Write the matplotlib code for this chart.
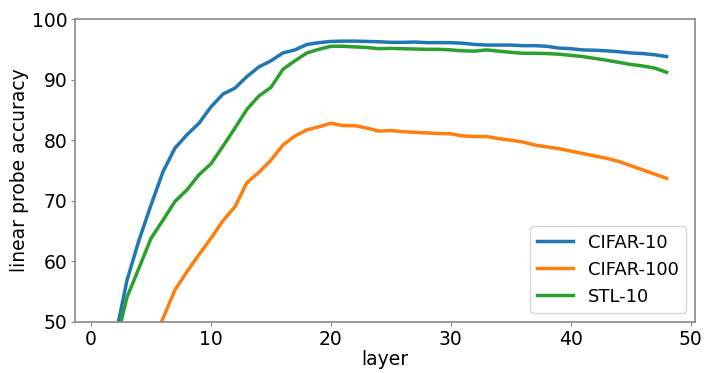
import matplotlib
matplotlib.use("Agg")
import matplotlib.pyplot as plt
import numpy as np

layers = list(range(1, 49))
cifar10 = [35.0, 47.3, 56.9, 63.5, 69.3, 74.8, 78.7, 80.9, 82.8, 85.5,
           87.6, 88.6, 90.5, 92.1, 93.1, 94.4, 94.9, 95.8, 96.1, 96.3,
           96.35, 96.35, 96.3, 96.25, 96.15, 96.15, 96.2, 96.1, 96.1, 96.1,
           96.0, 95.8, 95.7, 95.7, 95.7, 95.6, 95.6, 95.5, 95.2, 95.1,
           94.9, 94.85, 94.75, 94.6, 94.4, 94.3, 94.1, 93.8]
cifar100 = [25.0, 32.0, 37.0, 42.0, 46.5, 50.6, 55.3, 58.3, 61.1, 63.8,
            66.7, 69.0, 73.0, 74.7, 76.7, 79.2, 80.7, 81.7, 82.2, 82.8,
            82.4, 82.4, 82.0, 81.5, 81.6, 81.4, 81.3, 81.2, 81.1, 81.05,
            80.7, 80.6, 80.6, 80.25, 80.0, 79.7, 79.2, 78.9, 78.6, 78.2,
            77.8, 77.4, 77.0, 76.5, 75.8, 75.1, 74.4, 73.7]
stl10 = [38.0, 45.9, 54.1, 58.9, 63.8, 66.8, 69.9, 71.8, 74.3, 76.1,
         79.0, 82.0, 85.1, 87.3, 88.7, 91.7, 93.1, 94.4, 95.0, 95.5,
         95.5, 95.4, 95.3, 95.1, 95.15, 95.1, 95.05, 95.0, 95.0, 94.9,
         94.75, 94.7, 94.9, 94.7, 94.5, 94.35, 94.35, 94.3, 94.2, 94.0,
         93.8, 93.5, 93.2, 92.85, 92.5, 92.25, 91.9, 91.2]

fig = plt.figure(figsize=(7.2, 3.73), dpi=100)
ax = fig.add_axes([0.104, 0.137, 0.861, 0.812])
ax.plot(layers, cifar10, color="#1f77b4", lw=2.5, label="CIFAR-10")
ax.plot(layers, cifar100, color="#ff7f0e", lw=2.5, label="CIFAR-100")
ax.plot(layers, stl10, color="#2ca02c", lw=2.5, label="STL-10")
ax.set_ylim(50, 100)
ax.set_xticks([0, 10, 20, 30, 40, 50])
ax.set_yticks([50, 60, 70, 80, 90, 100])
ax.set_xlabel("layer", fontsize=13.5, labelpad=1)
ax.set_ylabel("linear probe accuracy", fontsize=13.5, labelpad=2)
ax.tick_params(labelsize=13.5, color="#888888", length=3, pad=2.5)
for s in ax.spines.values():
    s.set_color("#888888")
    s.set_linewidth(1.2)
ax.legend(loc="lower right", fontsize=13)
fig.savefig("out.png", dpi=100)
